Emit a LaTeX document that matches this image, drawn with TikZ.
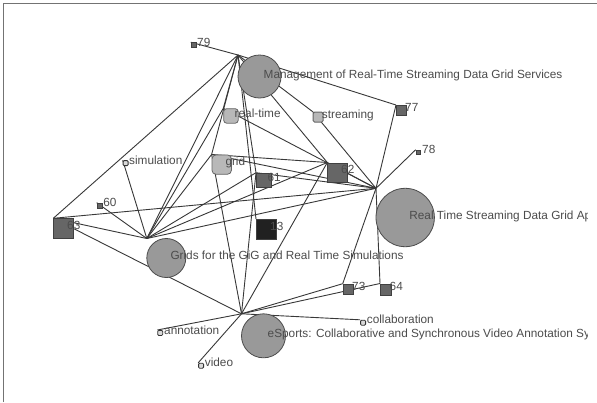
\documentclass[tikz,border=0pt]{standalone}
\usepackage{fontspec}
\setmainfont{Liberation Sans}
\begin{document}
\begin{tikzpicture}[x=1pt,y=-1pt,
  edge/.style={draw=black!78,line width=0.9pt},
  sqnode/.style={draw=black!75,fill=black!60,line width=0.8pt,inner sep=0pt,anchor=north west},
  kwnode/.style={draw=black!60,fill=black!28,line width=0.8pt,inner sep=0pt,rounded corners=3pt,anchor=north west},
  tinynode/.style={draw=black!80,fill=black!15,line width=0.8pt,inner sep=0pt,rounded corners=1pt,anchor=north west,minimum size=5pt},
  paper/.style={circle,draw=black!70,fill=black!40,line width=0.8pt,inner sep=0pt},
  lbl/.style={anchor=base west,inner sep=0pt,text=black!70,font=\fontsize{11.8}{14}\selectfont}]
\useasboundingbox (0,0) rectangle (597,402);
\fill[white] (0,0) rectangle (597,402);
% frame
\draw[black!55,line width=1.3pt] (3.5,402) -- (3.5,3.5) -- (597,3.5);

% node locations (top-left corners)
\coordinate (n79) at (190.7,42.2);
\coordinate (nM) at (238,55);
\coordinate (nrt) at (223.3,108.3);
\coordinate (nst) at (312.7,111.7);
\coordinate (n77) at (396,105);
\coordinate (n78) at (415.7,149.7);
\coordinate (nsim) at (122.7,160.2);
\coordinate (ngrid) at (211.6,154.5);
\coordinate (n61) at (256,172.7);
\coordinate (n62) at (327.3,162.5);
\coordinate (nR) at (376,188.3);
\coordinate (n60) at (96.7,202.7);
\coordinate (n63) at (53.3,218.3);
\coordinate (n13) at (256,219);
\coordinate (nG) at (146.8,238.5);
\coordinate (n73) at (342.7,283.7);
\coordinate (n64) at (380,283.5);
\coordinate (ncol) at (360.2,319.8);
\coordinate (nE) at (241.5,313.8);
\coordinate (nann) at (157.3,330);
\coordinate (nvid) at (198.2,362.8);

% connectors
\foreach \a/\b in {n79/nM, nM/n63, nM/nG, nM/nrt, nM/ngrid, nM/n61, nM/n13, nM/n77, nM/nst, nM/n62,
  nR/nst, nR/n77, nR/n78, nR/n62, nR/n63, nR/nG, nR/ngrid, nR/nrt, nR/n61, nR/n73, nR/n64,
  ngrid/n62,
  nG/n60, nG/nsim, nG/n63, nG/nrt, nG/ngrid, nG/n61, nG/n62,
  nE/n63, nE/ngrid, nE/n61, nE/n62, nE/n73, nE/n64, nE/ncol, nE/nann, nE/nvid}
  \draw[edge] (\a) -- (\b);

\begin{scope}
\clip (0,0) rectangle (587,402);
% paper nodes
\node[paper,minimum size=43pt] (bM) at (259.5,76.5) {};
\node[paper,minimum size=58.4pt] (bR) at (405.2,217.5) {};
\node[paper,minimum size=39pt] (bG) at (166.3,258) {};
\node[paper,minimum size=44pt] (bE) at (263.5,335.8) {};
% keyword nodes
\node[kwnode,minimum size=14.5pt] (brt) at (nrt) {};
\node[kwnode,minimum size=10pt,rounded corners=1.5pt] (bst) at (nst) {};
\node[kwnode,minimum size=19.4pt,rounded corners=4pt] (bgrid) at (ngrid) {};
\node[tinynode] (bsim) at (nsim) {};
\node[tinynode] (bcol) at (ncol) {};
\node[tinynode] (bann) at (nann) {};
\node[tinynode] (bvid) at (nvid) {};
% numbered nodes
\node[sqnode,minimum size=5pt] (b79) at (n79) {};
\node[sqnode,minimum size=10pt] (b77) at (n77) {};
\node[sqnode,minimum size=4.6pt] (b78) at (n78) {};
\node[sqnode,minimum size=14.6pt] (b61) at (n61) {};
\node[sqnode,minimum size=19.4pt] (b62) at (n62) {};
\node[sqnode,minimum size=5pt] (b60) at (n60) {};
\node[sqnode,minimum size=19.4pt] (b63) at (n63) {};
\node[sqnode,minimum size=20pt,fill=black!87] (b13) at (n13) {};
\node[sqnode,minimum size=10.6pt] (b73) at (n73) {};
\node[sqnode,minimum size=11pt] (b64) at (n64) {};

% labels
\node[lbl] (l79) at (197,46) {79};
\node[lbl] (lM) at (263.5,78) {Management of Real-Time Streaming Data Grid Services};
\node[lbl] (lrt) at (234.5,117) {real-time};
\node[lbl] (lst) at (321.7,118.2) {streaming};
\node[lbl] (l77) at (405,111.5) {77};
\node[lbl] (l78) at (422,153.5) {78};
\node[lbl] (lsim) at (129,164) {simulation};
\node[lbl] (lgrid) at (225.3,165.7) {grid};
\node[lbl] (l61) at (267.3,181.5) {61};
\node[lbl] (l62) at (341,173.7) {62};
\node[lbl] (lR) at (409.2,219) {Real Time Streaming Data Grid Ap};
\node[lbl] (l60) at (103.2,206.7) {60};
\node[lbl] (l63) at (67,229.5) {63};
\node[lbl] (l13) at (270,230.5) {13};
\node[lbl] (lG) at (170.3,259.5) {Grids for the GiG and Real Time Simulations};
\node[lbl] (l73) at (352,290.5) {73};
\node[lbl] (l64) at (389.5,290.5) {64};
\node[lbl] (lcol) at (366.7,323.8) {collaboration};
\node[lbl] (lE) at (267.5,337.3) {eSports: Collaborative and Synchronous Video Annotation Sy};
\node[lbl] (lann) at (164,334.2) {annotation};
\node[lbl] (lvid) at (204.7,366.8) {video};
\end{scope}
\end{tikzpicture}
\end{document}
